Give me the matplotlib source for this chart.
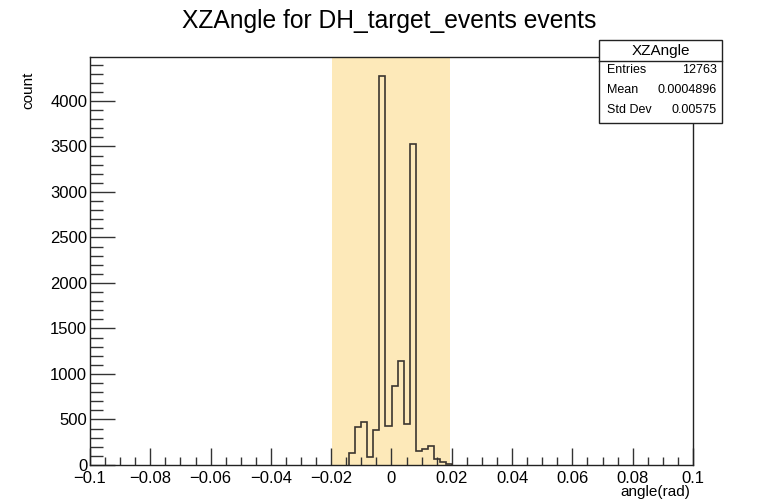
import numpy as np
import matplotlib.pyplot as plt
from matplotlib.patches import Rectangle
from matplotlib.lines import Line2D
from matplotlib.ticker import MultipleLocator, FuncFormatter

plt.rcParams['font.family'] = ['Liberation Sans', 'DejaVu Sans']

# histogram contents (0.002 rad bins, empty outside this range)
angle_edges = np.round(np.arange(-0.014, 0.0201, 0.002), 3)
counts = [128, 420, 470, 92, 385, 4270, 429, 870, 1147, 447, 3530,
          154, 172, 209, 70, 30, 15]
cut_window = (-0.0197, 0.0193)

n_entries = 12763
mean_val = 0.0004896
std_val = 0.00575

W, H = 767, 500
fig = plt.figure(figsize=(W / 100, H / 100), dpi=100)
ax = fig.add_axes([90 / W, 35 / H, 603 / W, 408 / H])

ax.axvspan(cut_window[0], cut_window[1], color='#fde9b9', lw=0, zorder=0)
ax.stairs(counts, angle_edges, color='#3b3530', lw=1.2, zorder=2)

ax.set_xlim(-0.1, 0.1)
ax.set_ylim(0, 1.05 * max(counts))

ax.xaxis.set_major_locator(MultipleLocator(0.02))
ax.xaxis.set_minor_locator(MultipleLocator(0.005))
ax.yaxis.set_major_locator(MultipleLocator(500))
ax.yaxis.set_minor_locator(MultipleLocator(100))


def fmt_x(v, pos):
    v = round(v, 3) + 0.0
    if abs(v) < 1e-9:
        return '0'
    return ('%g' % v).replace('-', '\u2212')


def fmt_y(v, pos):
    return '%d' % round(v)


ax.xaxis.set_major_formatter(FuncFormatter(fmt_x))
ax.yaxis.set_major_formatter(FuncFormatter(fmt_y))
ax.tick_params(axis='both', which='both', direction='in', width=1,
               color='#333333', labelsize=12)
ax.tick_params(axis='x', which='major', length=12, pad=4.5)
ax.tick_params(axis='x', which='minor', length=6)
ax.tick_params(axis='y', which='major', length=18, pad=2)
ax.tick_params(axis='y', which='minor', length=9)
for sp in ax.spines.values():
    sp.set_color('#222222')
    sp.set_linewidth(1.0)

fig.text(28 / W, 1 - 72 / H, 'count', rotation=90, ha='center', va='top',
         fontsize=11)
fig.text(690 / W, 1 - 492 / H, 'angle(rad)', ha='right', va='center',
         fontsize=11)
fig.text(389 / W, 1 - 21 / H, 'XZAngle for DH_target_events events',
         ha='center', va='center', fontsize=17.7)

# stats box
bx0, bx1, by0, by1, bdiv = 599, 722, 40, 123, 61


def fx(px):
    return px / W


def fy(py):
    return 1 - py / H


fig.patches.append(Rectangle((fx(bx0), fy(by1)), fx(bx1) - fx(bx0),
                             fy(by0) - fy(by1), transform=fig.transFigure,
                             facecolor='white', edgecolor='#222222', lw=1.0,
                             zorder=5))
fig.lines.append(Line2D([fx(bx0), fx(bx1)], [fy(bdiv), fy(bdiv)],
                        transform=fig.transFigure, color='#222222', lw=1.0,
                        zorder=6))
fig.text(fx((bx0 + bx1) / 2), fy(50.5), 'XZAngle', ha='center', va='center',
         fontsize=11, zorder=7)
rows = [('Entries', '%d' % n_entries), ('Mean', '%.7f' % mean_val),
        ('Std Dev', '%.5f' % std_val)]
for i, (lab, val) in enumerate(rows):
    yy = fy(70 + 20 * i)
    fig.text(fx(bx0 + 8), yy, lab, ha='left', va='center', fontsize=9,
             zorder=7)
    fig.text(fx(bx1 - 5), yy, val, ha='right', va='center', fontsize=9,
             zorder=7)

fig.savefig('out.png', dpi=100)
